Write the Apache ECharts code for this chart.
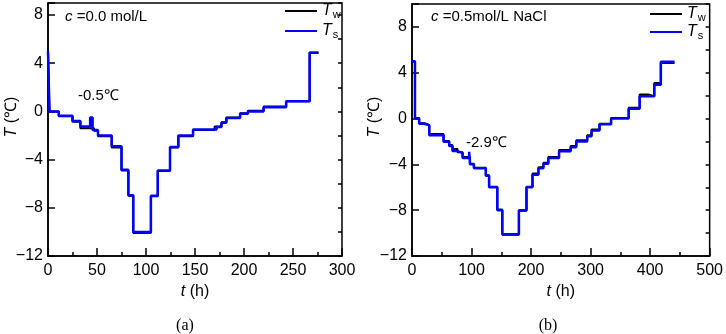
<!DOCTYPE html>
<html>
<head>
<meta charset="utf-8">
<script src="https://cdn.jsdelivr.net/npm/echarts@6/dist/echarts.min.js"></script>
<style>
  html, body { margin: 0; padding: 0; background: #fff; }
  #chart { width: 726px; height: 334px; }
</style>
</head>
<body>
<div id="chart"></div>
<script>
// step data: [t (h), T (°C)] - the value holds from t until the next point
const leftTw = [
  [0, 4.9], [1.5, 0.0], [11, -0.4], [25, -0.85], [33, -1.4], [47, -1.6], [51, -2.05],
  [65, -3.0], [75, -4.9], [82, -7.0], [87, -10.1], [105, -7.05], [112, -4.95],
  [124.5, -3.0], [133, -2.05], [148, -1.55], [170, -1.25], [177, -0.9], [182, -0.5],
  [196, -0.15], [204, 0.05], [220, 0.4], [243, 0.85], [267, 4.85], [276, 4.85]
];
const leftTs = [
  [0, 5.0], [1.5, 0.0], [11, -0.35], [25, -0.8], [33, -1.25], [43, -0.5], [45.5, -1.55],
  [51, -2.0], [65, -2.9], [75, -4.85], [82, -6.95], [87, -10.0], [105, -7.0], [112, -4.9],
  [124.5, -2.95], [133, -2.0], [148, -1.5], [172, -1.3], [177, -0.95], [182, -0.55],
  [196, -0.2], [204, 0.0], [220, 0.35], [243, 0.85], [267, 4.9], [276, 4.9]
];
const rightTw = [
  [0, 4.95], [5, 0.05], [12, -0.4], [20.7, -0.55], [29, -1.35], [53, -1.95], [62.5, -2.3],
  [68, -2.65], [76.5, -2.95], [85, -3.35], [97.5, -3.95], [104, -4.3], [124, -4.95],
  [129.5, -5.95], [143.3, -7.95], [151.7, -10.15], [179.6, -8.05], [192.3, -5.95],
  [202.4, -4.8], [212.4, -4.25], [220.8, -3.85], [229, -3.35], [247, -2.75], [266.5, -2.4],
  [276, -1.9], [294.3, -1.45], [301.6, -0.95], [315, -0.45], [334.4, 0.05], [364, 0.95],
  [382.4, 2.1], [397, 1.95], [407, 3.1], [418, 4.85], [441, 4.85]
];
const rightTs = [
  [0, 5.0], [5, 0.0], [12, -0.45], [20.7, -0.6], [29, -1.45], [53, -2.03], [62.5, -2.4],
  [68, -2.84], [76.5, -3.0], [85, -3.45], [96, -2.9], [97.5, -4.0], [104, -4.35], [124, -5.0],
  [129.5, -6.0], [143.3, -8.0], [151.7, -10.1], [179.6, -8.0], [192.3, -6.0], [202.4, -4.9],
  [212.4, -4.35], [220.8, -3.95], [229, -3.45], [247, -2.85], [266.5, -2.5], [276, -2.0],
  [294.3, -1.55], [301.6, -1.05], [315, -0.5], [334.4, 0.0], [364, 0.85], [382.4, 1.95],
  [407, 2.95], [418, 4.95], [441, 4.95]
];
const seriesNames = ['Tw', 'Ts'];
const panelLabels = ['(a)', '(b)'];
const panelNotes = [' =0.0 mol/L', ' =0.5mol/L NaCl'];
const minNotes = ['-0.5℃', '-2.9℃'];

const FONT = 'Liberation Sans, Arial, sans-serif';
const rich = {
  i: { fontStyle: 'italic', fontSize: 16, fontFamily: FONT, color: '#000', lineHeight: 18, verticalAlign: 'middle' },
  s: { fontSize: 11, fontFamily: FONT, color: '#000', lineHeight: 11, verticalAlign: 'bottom', padding: [0, 0, 0, 1] },
  n: { fontSize: 16, fontFamily: FONT, color: '#000', lineHeight: 18, verticalAlign: 'middle' }
};
const noteRich = {
  i: { fontStyle: 'italic', fontSize: 15, fontFamily: FONT },
  n: { fontSize: 15, fontFamily: FONT }
};

const fmt = v => (v % 4 === 0 ? String(v).replace('-', '\u2212') : '');

function xAxis(gi, max, interval) {
  return {
    gridIndex: gi, type: 'value', min: 0, max: max, interval: interval,
    axisLine: { onZero: false, lineStyle: { color: '#000', width: 1.5 } },
    axisTick: { inside: true, length: 8, lineStyle: { color: '#000', width: 1.5 } },
    minorTick: { show: true, splitNumber: 2, length: 4, lineStyle: { color: '#000', width: 1.5 } },
    axisLabel: { color: '#000', fontSize: 16, fontFamily: FONT, margin: 7 },
    splitLine: { show: false },
    name: '{i|t}{n| (h)}', nameLocation: 'middle', nameGap: 27,
    nameTextStyle: { rich: rich }
  };
}
function yMajor(gi, max) {
  return {
    gridIndex: gi, type: 'value', min: -12, max: max, interval: 4,
    axisLine: { onZero: false, lineStyle: { color: '#000', width: 1.5 } },
    axisTick: { inside: true, length: 7, lineStyle: { color: '#000', width: 1.5 } },
    axisLabel: { color: '#000', fontSize: 16, fontFamily: FONT, margin: 5, formatter: fmt },
    splitLine: { show: false }
  };
}
function yMinor(gi, max) {
  return {
    gridIndex: gi, type: 'value', min: -12, max: max, interval: 2,
    axisLine: { show: false, onZero: false },
    axisTick: { inside: true, length: 4, lineStyle: { color: '#000', width: 1.5 } },
    axisLabel: { show: false },
    splitLine: { show: false }
  };
}
function line(name, data, gi, color, width) {
  return {
    name: name, type: 'line', step: 'end', data: data,
    xAxisIndex: gi, yAxisIndex: gi * 2,
    symbol: 'none', animation: false,
    lineStyle: { color: color, width: width }, itemStyle: { color: color }
  };
}
function legend(left, top, gap) {
  return {
    left: left, top: top, orient: 'vertical', padding: 0, itemGap: gap,
    icon: 'rect', itemWidth: 32, itemHeight: 2, data: seriesNames,
    formatter: n => '{i|T}{s|' + n.slice(1) + '}',
    textStyle: { rich: rich }
  };
}
function text(x, y, str, extra) {
  return { type: 'text', x: x, y: y, style: Object.assign({ text: str, fill: '#000', fontFamily: FONT, fontSize: 15 }, extra || {}) };
}

const chart = echarts.init(document.getElementById('chart'));
chart.setOption({
  backgroundColor: '#fff',
  animation: false,
  grid: [
    { left: 48, top: 3, width: 294, height: 253, show: true, borderColor: '#000', borderWidth: 1.5 },
    { left: 412, top: 4, width: 299, height: 252, show: true, borderColor: '#000', borderWidth: 1.5 }
  ],
  xAxis: [xAxis(0, 300, 50), xAxis(1, 500, 100)],
  yAxis: [yMajor(0, 9), yMinor(0, 9), yMajor(1, 10), yMinor(1, 10)],
  legend: [legend(285, 3, 3), legend(650, 6, 1)],
  series: [
    line('Tw', leftTw, 0, '#000', 2),
    line('Ts', leftTs, 0, '#0000ff', 2.5),
    line('Tw', rightTw, 1, '#000', 2),
    line('Ts', rightTs, 1, '#0000ff', 2.5)
  ],
  graphic: [
    text(65, 17, '{i|c}{n|' + panelNotes[0] + '}', { verticalAlign: 'middle', rich: noteRich }),
    text(431, 17, '{i|c}{n|' + panelNotes[1] + '}', { verticalAlign: 'middle', rich: noteRich }),
    text(78, 96, minNotes[0], { verticalAlign: 'middle' }),
    text(466, 143, minNotes[1], { verticalAlign: 'middle' }),
    text(185, 326, panelLabels[0], { align: 'center', verticalAlign: 'middle', fontFamily: 'Liberation Serif, serif', fontSize: 16 }),
    text(548, 326, panelLabels[1], { align: 'center', verticalAlign: 'middle', fontFamily: 'Liberation Serif, serif', fontSize: 16 }),
    { type: 'text', x: 12, y: 117, rotation: Math.PI / 2,
      style: { text: '{i|T}{n| (℃)}', align: 'center', verticalAlign: 'middle', rich: rich } },
    { type: 'text', x: 375, y: 117, rotation: Math.PI / 2,
      style: { text: '{i|T}{n| (℃)}', align: 'center', verticalAlign: 'middle', rich: rich } }
  ]
});
</script>
</body>
</html>
